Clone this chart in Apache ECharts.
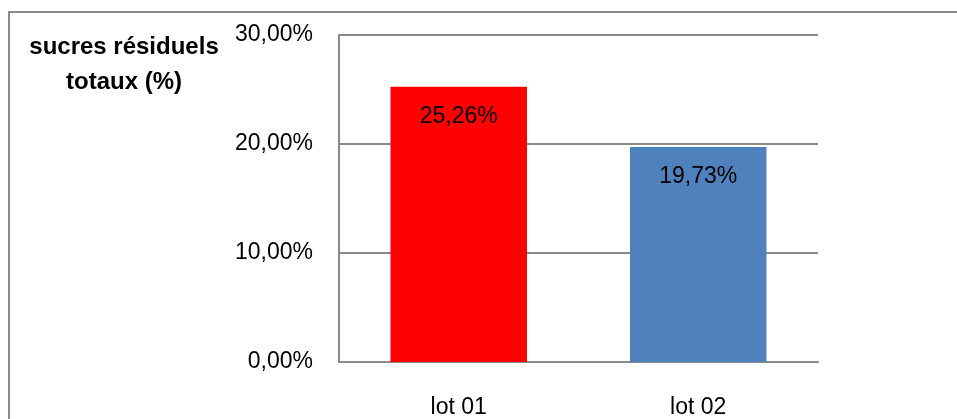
<!DOCTYPE html>
<html>
<head>
<meta charset="utf-8">
<script src="https://cdn.jsdelivr.net/npm/echarts@6/dist/echarts.min.js"></script>
<style>
  html, body { margin: 0; padding: 0; background: #fff; }
  #chart { width: 957px; height: 419px; }
</style>
</head>
<body>
<div id="chart"></div>
<script>
// données
var categories = ['lot 01', 'lot 02'];
var values = [25.26, 19.73];
var barColors = ['#FF0000', '#4F81BD'];

function fmt(v) {
  return v.toFixed(2).replace('.', ',') + '%';
}

var chart = echarts.init(document.getElementById('chart'));

chart.setOption({
  animation: false,
  backgroundColor: '#fff',
  textStyle: { fontFamily: 'Liberation Sans, Arial, sans-serif' },
  title: {
    text: 'sucres résiduels\ntotaux (%)',
    left: 119,
    top: 25,
    textAlign: 'center',
    textStyle: {
      fontSize: 24,
      fontWeight: 'bold',
      color: '#000',
      lineHeight: 35,
      fontFamily: 'Liberation Sans, Arial, sans-serif'
    }
  },
  // cadre gris autour du graphique
  graphic: [{
    type: 'rect',
    shape: { x: 9, y: 12, width: 960, height: 430 },
    style: { fill: 'none', stroke: '#8a8a8a', lineWidth: 2 },
    silent: true
  }],
  grid: { left: 339, right: 139, top: 35, bottom: 56 },
  xAxis: {
    type: 'category',
    data: categories,
    axisTick: { show: false },
    axisLine: { lineStyle: { color: '#8a8a8a', width: 2 } },
    axisLabel: { color: '#000', fontSize: 23, margin: 34 }
  },
  yAxis: {
    type: 'value',
    min: 0,
    max: 30,
    interval: 10,
    axisLine: { show: true, lineStyle: { color: '#8a8a8a', width: 2 } },
    axisTick: { show: false },
    splitLine: { lineStyle: { color: '#8a8a8a', width: 2 } },
    axisLabel: { color: '#000', fontSize: 23, margin: 26, formatter: fmt }
  },
  series: [{
    type: 'bar',
    barWidth: '57%',
    data: values.map(function (v, i) {
      return { value: v, itemStyle: { color: barColors[i] } };
    }),
    label: {
      show: true,
      position: 'insideTop',
      distance: 18,
      color: '#000',
      fontSize: 23,
      formatter: function (p) { return fmt(p.value); }
    }
  }]
});
</script>
</body>
</html>
